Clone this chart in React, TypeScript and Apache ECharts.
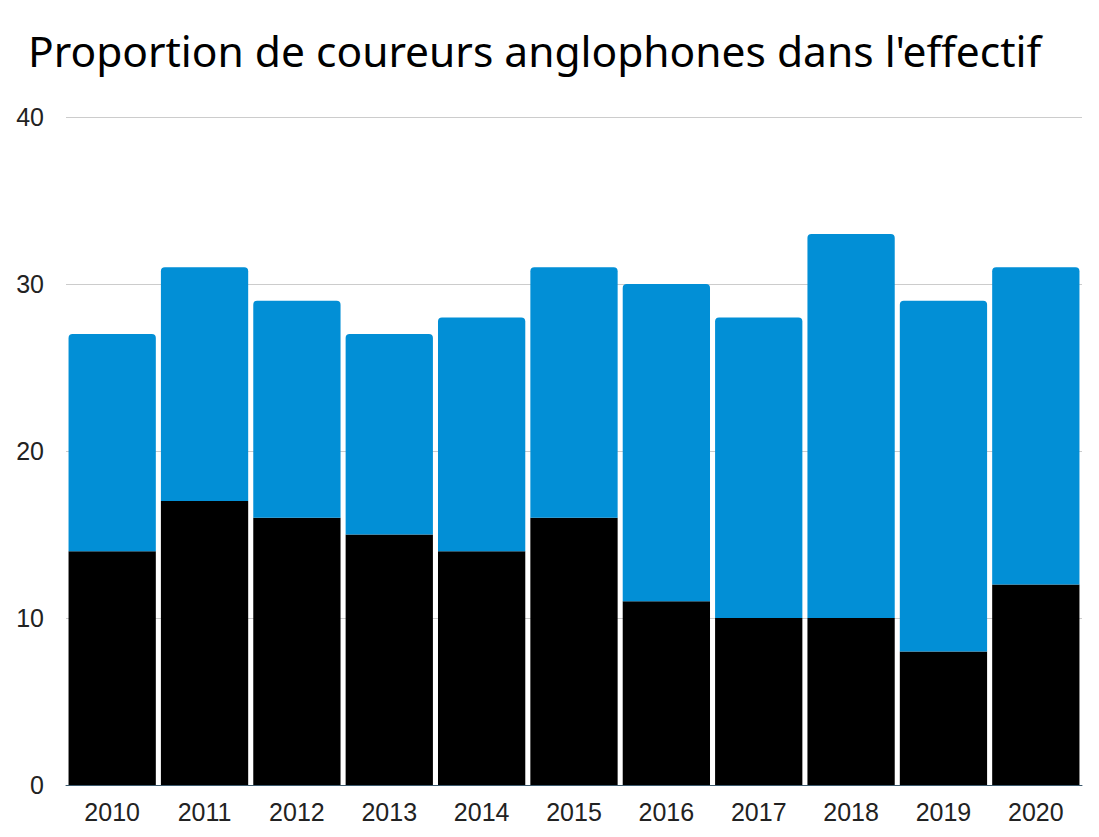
import React, { useEffect, useRef } from "react";
import * as echarts from "echarts";

const years = ["2010", "2011", "2012", "2013", "2014", "2015", "2016", "2017", "2018", "2019", "2020"];
const anglophonesBlack = [14, 17, 16, 15, 14, 16, 11, 10, 10, 8, 12];
const anglophonesBlue = [13, 14, 13, 12, 14, 15, 19, 18, 23, 21, 19];
const yTicks = { min: 0, max: 40, interval: 10 };

export default function App() {
  const ref = useRef<HTMLDivElement>(null);
  useEffect(() => {
    const chart = echarts.init(ref.current!, null, { renderer: "svg" });
    chart.setOption({
      animation: false,
      title: {
        text: "Proportion de coureurs anglophones dans l'effectif",
        left: 15,
        top: 16,
        textStyle: { fontFamily: "Noto Sans", fontWeight: "normal", fontSize: 42.5, color: "#000" },
      },
      grid: { left: 58, right: 9, top: 109, bottom: 44, containLabel: false },
      xAxis: {
        type: "category",
        data: years,
        axisLine: { lineStyle: { color: "#3c5a6e", width: 1 } },
        axisTick: { show: false },
        axisLabel: { fontFamily: "Liberation Sans", fontSize: 25, color: "#222", margin: 14 },
      },
      yAxis: {
        type: "value",
        min: yTicks.min,
        max: yTicks.max,
        interval: yTicks.interval,
        axisLine: { show: false },
        axisTick: { show: false },
        splitLine: { lineStyle: { color: "#cccccc", width: 1 } },
        axisLabel: { fontFamily: "Liberation Sans", fontSize: 25, color: "#222", margin: 22 },
      },
      series: [
        {
          type: "bar",
          stack: "total",
          data: anglophonesBlack,
          barCategoryGap: "5.5%",
          itemStyle: { color: "#000000" },
        },
        {
          type: "bar",
          stack: "total",
          data: anglophonesBlue,
          itemStyle: { color: "#028fd6", borderRadius: [4, 4, 0, 0] },
        },
      ],
    });
    return () => chart.dispose();
  }, []);
  return <div ref={ref} style={{ width: 1083, height: 821 }} />;
}
